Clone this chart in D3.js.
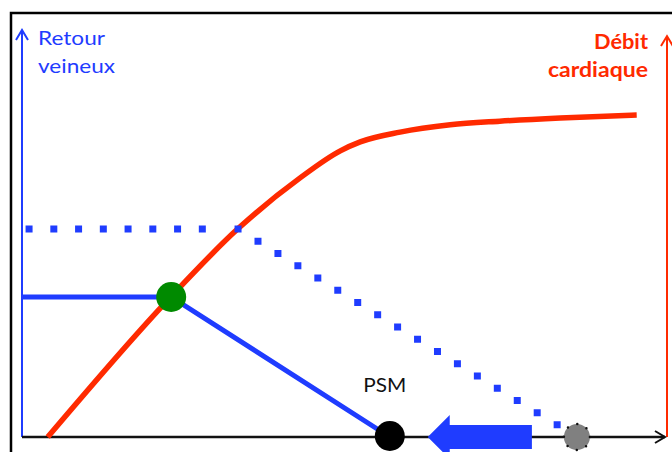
<!DOCTYPE html>
<html>
<head>
<meta charset="utf-8">
<script src="https://cdn.jsdelivr.net/npm/d3@7"></script>
<style>
  body { margin: 0; background: #fff; }
  svg { display: block; font-family: Lato, "Open Sans", sans-serif; }
</style>
</head>
<body>
<div class="chart"></div>
<script>
// Guyton curves: cardiac output vs venous return
const cardiacX = [0.40, 2.30, 3.34, 4.32, 4.95, 5.26, 5.88, 6.66, 7.43, 8.37, 9.56];
const cardiacY = [0, 3.42, 5.09, 6.36, 7.03, 7.25, 7.49, 7.67, 7.76, 7.84, 7.91];

const venousX = [0, 2.32, 5.72];
const venousY = [3.44, 3.44, 0];

const venousUpX = [0.11, 3.36, 8.63];
const venousUpY = [5.11, 5.11, 0];

const equilibrium = { x: 2.32, y: 3.44 };
const psm = { x: 5.72, y: 0, label: "PSM" };
const psmNew = { x: 8.63, y: 0 };
const shiftArrow = { from: 7.93, to: 6.31 };

const leftTitle = ["Retour", "veineux"];
const rightTitle = ["Débit", "cardiaque"];

const width = 672;
const height = 452;
const blue = "#1f3cff";
const red = "#ff2a00";

const x = d3.scaleLinear().domain([0, 10]).range([22, 665]);
const y = d3.scaleLinear().domain([0, 10]).range([437, 30]);

const svg = d3.select(".chart")
    .append("svg")
    .attr("width", width)
    .attr("height", height);

// chevron arrow heads
const defs = svg.append("defs");
function chevron(id, color) {
    defs.append("marker")
        .attr("id", id)
        .attr("viewBox", "-12 -8 14 16")
        .attr("refX", 0)
        .attr("refY", 0)
        .attr("markerWidth", 14)
        .attr("markerHeight", 16)
        .attr("markerUnits", "userSpaceOnUse")
        .attr("orient", "auto")
        .append("path")
        .attr("d", "M-10,-6 L0,0 L-10,6")
        .attr("fill", "none")
        .attr("stroke", color)
        .attr("stroke-width", 2);
}
chevron("arrowBlue", blue);
chevron("arrowBlack", "#111");
chevron("arrowRed", red);

// outer frame (cut by the viewport)
svg.append("path")
    .attr("d", `M11,${height} V13 H${width}`)
    .attr("fill", "none")
    .attr("stroke", "#000")
    .attr("stroke-width", 2.5);

// axes
svg.append("line")
    .attr("x1", x(0)).attr("y1", y(0))
    .attr("x2", x(0)).attr("y2", y(10))
    .attr("stroke", blue)
    .attr("stroke-width", 2)
    .attr("marker-end", "url(#arrowBlue)");

svg.append("line")
    .attr("x1", x(10) + 2).attr("y1", y(0))
    .attr("x2", x(10) + 2).attr("y2", y(9.85))
    .attr("stroke", red)
    .attr("stroke-width", 2)
    .attr("marker-end", "url(#arrowRed)");

svg.append("line")
    .attr("x1", x(0)).attr("y1", y(0))
    .attr("x2", x(10)).attr("y2", y(0))
    .attr("stroke", "#111")
    .attr("stroke-width", 2.5)
    .attr("marker-end", "url(#arrowBlack)");

// cardiac output curve
const cardiac = cardiacX.map((d, i) => [x(d), y(cardiacY[i])]);
svg.append("path")
    .attr("d", d3.line().curve(d3.curveMonotoneX)(cardiac))
    .attr("fill", "none")
    .attr("stroke", red)
    .attr("stroke-width", 5.5);

// baseline venous return
const venous = venousX.map((d, i) => [x(d), y(venousY[i])]);
svg.append("path")
    .attr("d", d3.line()(venous))
    .attr("fill", "none")
    .attr("stroke", blue)
    .attr("stroke-width", 5);

// new PSM (grey, dotted rim)
svg.append("circle")
    .attr("cx", x(psmNew.x))
    .attr("cy", y(psmNew.y))
    .attr("r", 13)
    .attr("fill", "#808080");
svg.append("circle")
    .attr("cx", x(psmNew.x))
    .attr("cy", y(psmNew.y))
    .attr("r", 13)
    .attr("fill", "none")
    .attr("stroke", "#111")
    .attr("stroke-width", 2.5)
    .attr("stroke-linecap", "round")
    .attr("stroke-dasharray", `0 ${2 * Math.PI * 13 / 8}`);

// increased venous return, dotted (two runs so the corner gets a dot)
const venousUp = venousUpX.map((d, i) => [x(d), y(venousUpY[i])]);
[[venousUp[0], [venousUp[1][0] - 11, venousUp[1][1]]], [venousUp[1], venousUp[2]]].forEach((seg, i) => {
    svg.append("path")
        .attr("d", d3.line()(seg))
        .attr("fill", "none")
        .attr("stroke", blue)
        .attr("stroke-width", 7)
        .attr("stroke-linecap", "square")
        .attr("stroke-dasharray", i === 0 ? "0 24.75" : "0 23.4");
});

// shift arrow
const ax0 = x(shiftArrow.to);
const ax1 = x(shiftArrow.from);
const ay = y(0);
svg.append("path")
    .attr("d", `M${ax0},${ay} L${ax0 + 22},${ay - 22} L${ax0 + 22},${ay - 12} L${ax1},${ay - 12} L${ax1},${ay + 12} L${ax0 + 22},${ay + 12} L${ax0 + 22},${ay + 22} Z`)
    .attr("fill", blue);

// equilibrium point and PSM
svg.append("circle")
    .attr("cx", x(equilibrium.x))
    .attr("cy", y(equilibrium.y))
    .attr("r", 15)
    .attr("fill", "#008a00");

svg.append("circle")
    .attr("cx", x(psm.x))
    .attr("cy", y(psm.y) - 1)
    .attr("r", 15)
    .attr("fill", "#000");

svg.append("text")
    .attr("x", x(psm.x) - 5)
    .attr("y", 392)
    .attr("text-anchor", "middle")
    .attr("font-size", 20)
    .attr("fill", "#111")
    .attr("textLength", 43)
    .attr("lengthAdjust", "spacingAndGlyphs")
    .text(psm.label);

// titles
svg.append("g")
    .selectAll("text")
    .data(leftTitle)
    .enter()
    .append("text")
    .attr("x", 38)
    .attr("y", (d, i) => 45 + i * 28)
    .attr("font-size", 19)
    .attr("fill", blue)
    .attr("textLength", (d, i) => i === 0 ? 67 : 77)
    .attr("lengthAdjust", "spacingAndGlyphs")
    .text(d => d);

svg.append("g")
    .selectAll("text")
    .data(rightTitle)
    .enter()
    .append("text")
    .attr("x", 648)
    .attr("y", (d, i) => 49 + i * 28)
    .attr("text-anchor", "end")
    .attr("font-size", 21)
    .attr("font-weight", "bold")
    .attr("fill", red)
    .attr("textLength", (d, i) => i === 0 ? 54 : 100)
    .attr("lengthAdjust", "spacingAndGlyphs")
    .text(d => d);
</script>
</body>
</html>
